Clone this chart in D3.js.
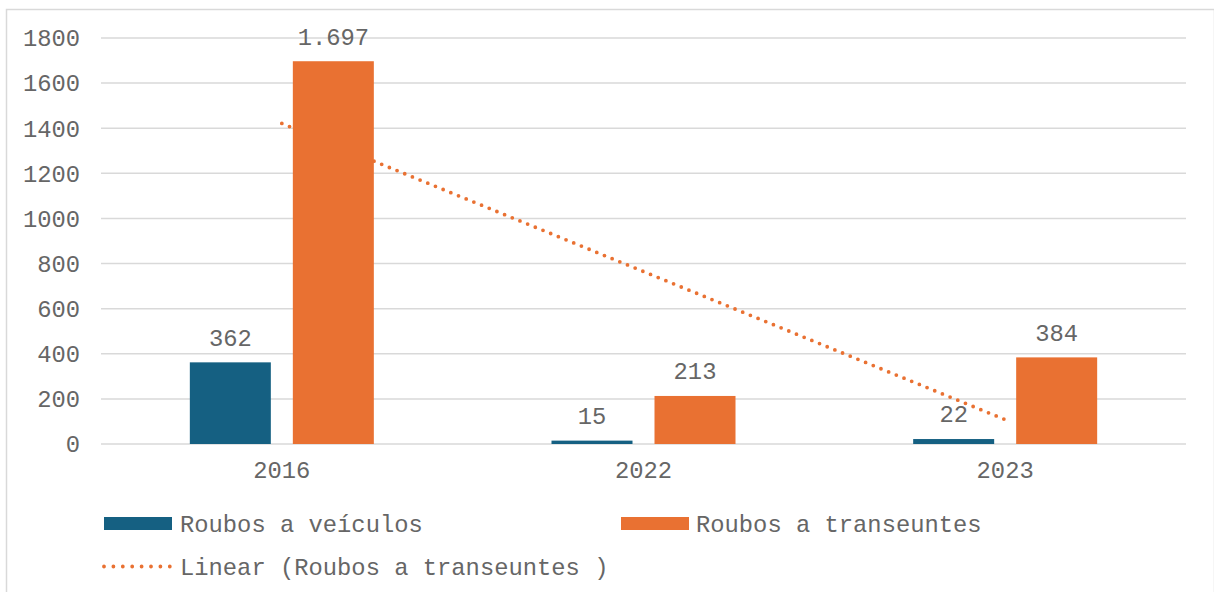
<!DOCTYPE html>
<html>
<head>
<meta charset="utf-8">
<script src="https://cdn.jsdelivr.net/npm/d3@7"></script>
<style>
  body { margin: 0; background: #fff; }
  svg text { font-family: "Liberation Mono", "DejaVu Sans Mono", monospace; fill: #666666; }
</style>
</head>
<body>
<svg id="chart"></svg>
<script>
// chart data
const years = ["2016", "2022", "2023"];
const veiculos = [362, 15, 22];
const transeuntes = [1697, 213, 384];
const yTicks = [0, 200, 400, 600, 800, 1000, 1200, 1400, 1600, 1800];
const seriesNames = ["Roubos a veículos", "Roubos a transeuntes"];
const trendName = "Linear (Roubos a transeuntes )";

const width = 1214, height = 592;
const blue = "#156082", orange = "#E97132";
const fontSize = 23.8;

const svg = d3.select("#chart")
    .attr("width", width)
    .attr("height", height);

// chart border
svg.append("rect")
    .attr("x", 6.5).attr("y", 9.5)
    .attr("width", width - 6).attr("height", height)
    .attr("fill", "none")
    .attr("stroke", "#d9d9d9")
    .attr("stroke-width", 1.5);

// scales
const x = d3.scaleBand().domain(years).range([101, 1186]);
const y = d3.scaleLinear().domain([0, 1800]).range([444, 38]);
const barW = 81, gap = 22;

// gridlines
svg.append("g")
    .selectAll("line")
    .data(yTicks)
    .join("line")
    .attr("x1", 101).attr("x2", 1186)
    .attr("y1", d => y(d)).attr("y2", d => y(d))
    .attr("stroke", "#d9d9d9")
    .attr("stroke-width", 1.5);

// y axis labels
svg.append("g")
    .selectAll("text")
    .data(yTicks)
    .join("text")
    .attr("x", 80)
    .attr("y", d => y(d))
    .attr("dy", "0.35em")
    .attr("text-anchor", "end")
    .style("font-size", fontSize + "px")
    .text(d => d);

// x axis labels
svg.append("g")
    .selectAll("text")
    .data(years)
    .join("text")
    .attr("x", d => x(d) + x.bandwidth() / 2)
    .attr("y", 470)
    .attr("dy", "0.35em")
    .attr("text-anchor", "middle")
    .style("font-size", fontSize + "px")
    .text(d => d);

// linear trendline for transeuntes (least squares over 1..n)
const xs = years.map((d, i) => i + 1);
const mx = d3.mean(xs), my = d3.mean(transeuntes);
const slope = d3.sum(xs, (v, i) => (v - mx) * (transeuntes[i] - my)) / d3.sum(xs, v => (v - mx) ** 2);
const icpt = my - slope * mx;
const cx = d => x(d) + x.bandwidth() / 2;

svg.append("line")
    .attr("x1", cx(years[0])).attr("y1", y(icpt + slope * xs[0]))
    .attr("x2", cx(years[years.length - 1])).attr("y2", y(icpt + slope * xs[xs.length - 1]))
    .attr("stroke", orange)
    .attr("stroke-width", 3.8)
    .attr("stroke-linecap", "round")
    .attr("stroke-dasharray", "0 8.3");

// bars
const groupW = barW * 2 + gap;
svg.append("g")
    .selectAll("rect")
    .data(veiculos)
    .join("rect")
    .attr("x", (d, i) => cx(years[i]) - groupW / 2)
    .attr("y", d => y(d))
    .attr("width", barW)
    .attr("height", d => y(0) - y(d))
    .attr("fill", blue);

svg.append("g")
    .selectAll("rect")
    .data(transeuntes)
    .join("rect")
    .attr("x", (d, i) => cx(years[i]) - groupW / 2 + barW + gap)
    .attr("y", d => y(d))
    .attr("width", barW)
    .attr("height", d => y(0) - y(d))
    .attr("fill", orange);

// data labels
const fmt = d3.formatLocale({ decimal: ",", thousands: ".", grouping: [3], currency: ["", ""] }).format(",d");
function labels(data, offset) {
    svg.append("g")
        .selectAll("text")
        .data(data)
        .join("text")
        .attr("x", (d, i) => cx(years[i]) - groupW / 2 + offset + barW / 2)
        .attr("y", d => y(d) - 25)
        .attr("dy", "0.35em")
        .attr("text-anchor", "middle")
        .style("font-size", fontSize + "px")
        .text(d => fmt(d));
}
labels(veiculos, 0);
labels(transeuntes, barW + gap);

// legend
const leg = svg.append("g");
leg.append("rect").attr("x", 104).attr("y", 517).attr("width", 68).attr("height", 13).attr("fill", blue);
leg.append("text").attr("x", 180).attr("y", 523.5).attr("dy", "0.35em")
    .style("font-size", fontSize + "px").text(seriesNames[0]);
leg.append("rect").attr("x", 621).attr("y", 517).attr("width", 68).attr("height", 13).attr("fill", orange);
leg.append("text").attr("x", 696).attr("y", 523.5).attr("dy", "0.35em")
    .style("font-size", fontSize + "px").text(seriesNames[1]);
leg.append("line")
    .attr("x1", 104).attr("x2", 170).attr("y1", 566.5).attr("y2", 566.5)
    .attr("stroke", orange).attr("stroke-width", 3.8)
    .attr("stroke-linecap", "round")
    .attr("stroke-dasharray", "0 9.4");
leg.append("text").attr("x", 180).attr("y", 566.5).attr("dy", "0.35em")
    .style("font-size", fontSize + "px").text(trendName);
</script>
</body>
</html>
